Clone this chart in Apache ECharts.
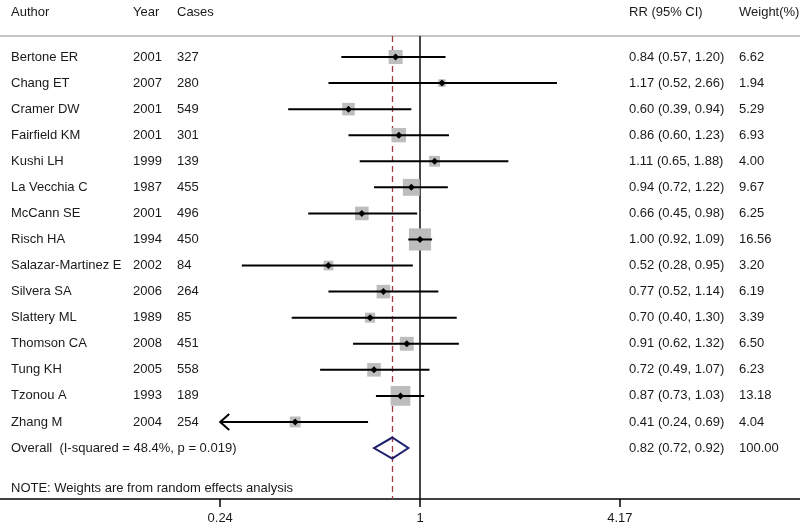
<!DOCTYPE html>
<html>
<head>
<meta charset="utf-8">
<script src="https://cdn.jsdelivr.net/npm/echarts@6/dist/echarts.min.js"></script>
<style>
  html, body { margin: 0; padding: 0; background: #fff; }
  #chart { width: 800px; height: 525px; }
</style>
</head>
<body>
<div id="chart"></div>
<script>
// study rows
const authors = ["Bertone ER", "Chang ET", "Cramer DW", "Fairfield KM", "Kushi LH", "La Vecchia C",
  "McCann SE", "Risch HA", "Salazar-Martinez E", "Silvera SA", "Slattery ML", "Thomson CA",
  "Tung KH", "Tzonou A", "Zhang M"];
const years = [2001, 2007, 2001, 2001, 1999, 1987, 2001, 1994, 2002, 2006, 1989, 2008, 2005, 1993, 2004];
const cases = [327, 280, 549, 301, 139, 455, 496, 450, 84, 264, 85, 451, 558, 189, 254];
const rr = [0.84, 1.17, 0.60, 0.86, 1.11, 0.94, 0.66, 1.00, 0.52, 0.77, 0.70, 0.91, 0.72, 0.87, 0.41];
const ciLow = [0.57, 0.52, 0.39, 0.60, 0.65, 0.72, 0.45, 0.92, 0.28, 0.52, 0.40, 0.62, 0.49, 0.73, 0.24];
const ciHigh = [1.20, 2.66, 0.94, 1.23, 1.88, 1.22, 0.98, 1.09, 0.95, 1.14, 1.30, 1.32, 1.07, 1.03, 0.69];
const weights = [6.62, 1.94, 5.29, 6.93, 4.00, 9.67, 6.25, 16.56, 3.20, 6.19, 3.39, 6.50, 6.23, 13.18, 4.04];

// pooled estimate
const overallLabel = "Overall  (I-squared = 48.4%, p = 0.019)";
const overallRR = 0.82;
const overallLow = 0.72;
const overallHigh = 0.92;
const overallWeight = 100.00;

// axis
const tickValues = [0.24, 1, 4.17];
const tickLabels = ["0.24", "1", "4.17"];
const plotMin = 0.24;
const plotMax = 4.17;

const headers = ["Author", "Year", "Cases", "RR (95% CI)", "Weight(%)"];
const note = "NOTE: Weights are from random effects analysis";

const FONT = "'Liberation Sans', Arial, sans-serif";
const TXT = "#1a1a1a";
const colX = [11, 133, 177, 629, 739];

const chart = echarts.init(document.getElementById("chart"));

const studyData = authors.map((a, i) => [Math.log(rr[i]), Math.log(ciLow[i]), Math.log(ciHigh[i]), i, weights[i]]);
const tableRows = authors.map((a, i) => [
  0, i, a, String(years[i]), String(cases[i]),
  rr[i].toFixed(2) + " (" + ciLow[i].toFixed(2) + ", " + ciHigh[i].toFixed(2) + ")",
  weights[i].toFixed(2)
]);
tableRows.push([0, authors.length, overallLabel, "", "",
  overallRR.toFixed(2) + " (" + overallLow.toFixed(2) + ", " + overallHigh.toFixed(2) + ")",
  overallWeight.toFixed(2)]);

function txt(x, y, s) {
  return { type: "text", x: x, y: y,
    style: { text: s, fill: TXT, font: "13px " + FONT, textVerticalAlign: "middle", textAlign: "left" } };
}

const option = {
  animation: false,
  grid: { left: 0, right: 0, top: 36, bottom: 26 },
  xAxis: [{
    type: "value",
    min: -3.0,
    max: 380 / 140,
    splitLine: { show: false },
    axisLine: { show: true, onZero: false, lineStyle: { color: "#000", width: 1.5 } },
    axisTick: { show: true, length: 8, lineStyle: { color: "#000", width: 1.5 },
      customValues: tickValues.map(Math.log) },
    axisLabel: { show: true, margin: 13, fontSize: 13, fontFamily: FONT, color: TXT,
      customValues: tickValues.map(Math.log),
      formatter: (v) => {
        let best = 0;
        tickValues.forEach((t, k) => { if (Math.abs(Math.log(t) - v) < Math.abs(Math.log(tickValues[best]) - v)) best = k; });
        return tickLabels[best];
      } }
  }, {
    type: "value",
    position: "top",
    min: -3.0,
    max: 380 / 140,
    splitLine: { show: false },
    axisLine: { show: true, onZero: false, lineStyle: { color: "#c4c4c4", width: 2 } },
    axisTick: { show: false },
    axisLabel: { show: false }
  }],
  yAxis: {
    type: "value",
    inverse: true,
    min: -0.805,
    max: 16.955,
    show: false
  },
  graphic: headers.map((h, k) => txt(colX[k], 12, h)).concat([txt(colX[0], 488, note)]),
  series: [
    {
      type: "custom",
      name: "table",
      z: 1,
      data: tableRows,
      encode: { x: 0, y: 1 },
      silent: true,
      renderItem: (params, api) => {
        const y = api.coord([0, api.value(1)])[1];
        const row = tableRows[params.dataIndex];
        const children = [];
        if (row[3] === "") {
          children.push(txt(colX[0], y, row[2]));
        } else {
          children.push(txt(colX[0], y, row[2]), txt(colX[1], y, row[3]), txt(colX[2], y, row[4]));
        }
        children.push(txt(colX[3], y, row[5]), txt(colX[4], y, row[6]));
        return { type: "group", children: children };
      },
      markLine: {
        silent: true,
        z: 1,
        symbol: "none",
        label: { show: false },
        data: [
          { xAxis: Math.log(overallRR), lineStyle: { color: "#a33a44", type: [6, 4], width: 1.3 } },
          { xAxis: 0, lineStyle: { color: "#1a1a1a", type: "solid", width: 1.6 } }
        ]
      }
    },
    {
      type: "custom",
      name: "studies",
      z: 3,
      data: studyData,
      encode: { x: [0, 1, 2], y: 3 },
      silent: true,
      renderItem: (params, api) => {
        const y = api.coord([0, api.value(3)])[1];
        const xEst = api.coord([api.value(0), 0])[0];
        const lnMin = Math.log(plotMin), lnMax = Math.log(plotMax);
        const lo = api.value(1), hi = api.value(2);
        const xLo = api.coord([Math.max(lo, lnMin), 0])[0];
        const xHi = api.coord([Math.min(hi, lnMax), 0])[0];
        const side = 5.44 * Math.sqrt(api.value(4));
        const children = [
          { type: "rect", shape: { x: xEst - side / 2, y: y - side / 2, width: side, height: side },
            style: { fill: "#bdbdbd" } },
          { type: "line", shape: { x1: xLo, y1: y, x2: xHi, y2: y },
            style: { stroke: "#000", lineWidth: 2 } }
        ];
        if (lo <= lnMin + 1e-9) {
          children.push({ type: "polyline", shape: { points: [[xLo + 9, y - 8], [xLo, y], [xLo + 9, y + 8]] },
            style: { stroke: "#000", lineWidth: 2, fill: null } });
        }
        if (hi >= lnMax - 1e-9) {
          children.push({ type: "polyline", shape: { points: [[xHi - 9, y - 8], [xHi, y], [xHi - 9, y + 8]] },
            style: { stroke: "#000", lineWidth: 2, fill: null } });
        }
        const d = 3.5;
        children.push({ type: "polygon", shape: { points: [[xEst - d, y], [xEst, y - d], [xEst + d, y], [xEst, y + d]] },
          style: { fill: "#000" } });
        return { type: "group", children: children };
      }
    },
    {
      type: "custom",
      name: "overall",
      z: 3,
      data: [[Math.log(overallRR), Math.log(overallLow), Math.log(overallHigh), authors.length]],
      encode: { x: [0, 1, 2], y: 3 },
      silent: true,
      renderItem: (params, api) => {
        const y = api.coord([0, api.value(3)])[1];
        const xe = api.coord([api.value(0), 0])[0];
        const xl = api.coord([api.value(1), 0])[0];
        const xh = api.coord([api.value(2), 0])[0];
        const h = 10.5;
        return { type: "polygon",
          shape: { points: [[xl, y], [xe, y - h], [xh, y], [xe, y + h]] },
          style: { stroke: "#1c1f6e", lineWidth: 2, fill: null } };
      }
    }
  ]
};

chart.setOption(option);
</script>
</body>
</html>
